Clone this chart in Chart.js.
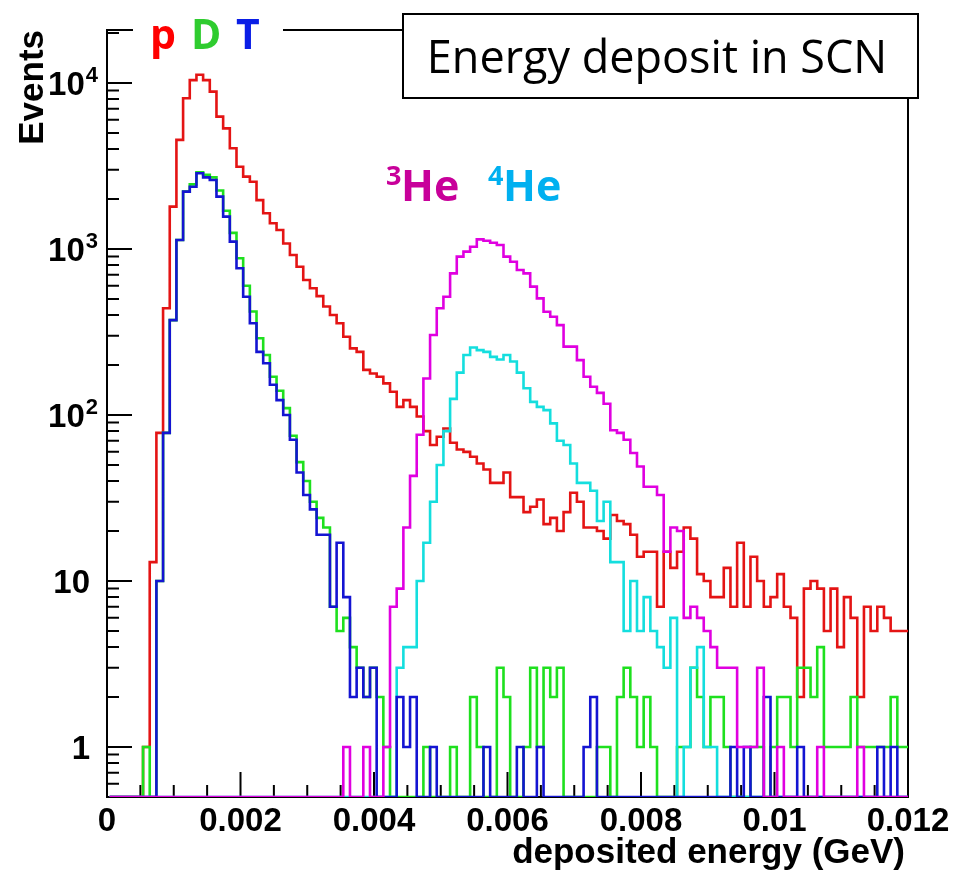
<!DOCTYPE html>
<html>
<head>
<meta charset="utf-8">
<title>Energy deposit in SCN</title>
<script src="https://cdn.jsdelivr.net/npm/chart.js@4.4.0/dist/chart.umd.min.js"></script>
<style>
  html, body { margin: 0; padding: 0; background: #fff; }
</style>
</head>
<body>
<canvas id="edep" width="955" height="888"></canvas>
<script>
// 120 bins of 0.1 MeV, first lower edge at 0.04 MeV
const binLow = 0.00004;
const binWidth = 0.0001;

// counts per bin (0 = empty bin)
const protons = [
  0, 0, 0, 0, 0, 1, 13, 78, 440, 1800,
  4540, 8090, 10400, 11200, 10400, 8870, 6270, 5330, 4040, 3130,
  2730, 2540, 1970, 1640, 1430, 1300, 1080, 920, 782, 650,
  580, 520, 450, 400, 357, 296, 252, 240, 187, 178,
  170, 155, 138, 112, 123, 112, 98, 80, 66, 74,
  83, 68, 62, 60, 56, 51, 47, 39, 39, 45,
  32, 32, 26, 28, 31, 22, 24, 20, 26, 34,
  30, 21, 21, 20, 18, 25, 23, 22, 19, 14,
  15, 15, 7, 15, 12, 15, 21, 18, 11, 10,
  8, 8, 12, 7, 17, 7, 14, 10, 7, 8,
  11, 7, 6, 2, 9, 10, 9, 5, 9, 4,
  8, 6, 2, 7, 5, 7, 6, 5, 5, 5
];
const deuterons = [
  0, 0, 0, 0, 0, 1, 0, 10, 78, 373,
  1133, 2215, 2450, 2900, 2800, 2700, 2250, 1700, 1250, 880,
  600, 420, 290, 230, 170, 140, 110, 75, 52, 40,
  30, 24, 21, 7, 5, 6, 4, 3, 2, 3,
  2, 1, 0, 0, 0, 0, 0, 1, 0, 0,
  0, 1, 0, 0, 2, 1, 0, 0, 3, 2,
  0, 0, 1, 3, 1, 3, 2, 3, 0, 0,
  0, 0, 0, 1, 1, 0, 2, 3, 2, 1,
  2, 1, 0, 0, 0, 1, 1, 3, 2, 1,
  2, 2, 1, 0, 0, 0, 1, 1, 0, 1,
  2, 2, 1, 3, 3, 2, 4, 1, 1, 1,
  1, 2, 1, 1, 1, 1, 1, 2, 1, 1
];
const tritons = [
  0, 0, 0, 0, 0, 0, 0, 10, 78, 373,
  1133, 2215, 2373, 2860, 2700, 2605, 2067, 1566, 1107, 765,
  516, 357, 240, 205, 152, 123, 100, 71, 45, 33,
  27, 19, 19, 7, 17, 8, 2, 3, 2, 3,
  0, 0, 0, 2, 1, 2, 0, 0, 1, 0,
  0, 0, 0, 0, 0, 0, 1, 0, 0, 0,
  0, 1, 0, 0, 1, 0, 0, 0, 0, 0,
  0, 1, 2, 0, 0, 0, 0, 0, 0, 0,
  0, 0, 0, 0, 0, 0, 0, 0, 0, 0,
  0, 0, 0, 1, 0, 1, 0, 0, 2, 0,
  0, 0, 0, 1, 0, 0, 0, 0, 0, 0,
  0, 0, 0, 0, 0, 1, 0, 1, 0, 0
];
const helium3 = [
  0, 0, 0, 0, 0, 0, 0, 0, 0, 0,
  0, 0, 0, 0, 0, 0, 0, 0, 0, 0,
  0, 0, 0, 0, 0, 0, 0, 0, 0, 0,
  0, 0, 0, 0, 0, 1, 0, 0, 1, 0,
  0, 1, 7, 9, 21, 43, 76, 166, 303, 440,
  516, 713, 899, 964, 1032, 1143, 1120, 1090, 1057, 899,
  838, 747, 713, 593, 504, 419, 391, 348, 258, 258,
  214, 170, 148, 136, 117, 81, 78, 71, 59, 49,
  37, 37, 33, 15, 21, 20, 6, 7, 6, 5,
  4, 3, 3, 3, 1, 1, 1, 3, 0, 0,
  1, 0, 0, 0, 0, 0, 1, 0, 0, 0,
  0, 0, 1, 0, 0, 0, 0, 0, 0, 0
];
const helium4 = [
  0, 0, 0, 0, 0, 0, 0, 0, 0, 0,
  0, 0, 0, 0, 0, 0, 0, 0, 0, 0,
  0, 0, 0, 0, 0, 0, 0, 0, 0, 0,
  0, 0, 0, 0, 0, 0, 0, 0, 0, 0,
  0, 0, 0, 3, 4, 4, 10, 17, 30, 50,
  80, 125, 180, 230, 255, 246, 240, 224, 216, 230,
  210, 180, 145, 120, 112, 107, 89, 70, 66, 51,
  39, 39, 35, 23, 30, 13, 13, 5, 10, 5,
  8, 5, 4, 3, 6, 0, 1, 3, 4, 1,
  1, 0, 0, 0, 0, 0, 0, 0, 0, 0,
  0, 0, 0, 0, 0, 0, 0, 0, 0, 0,
  0, 0, 0, 0, 0, 0, 0, 0, 0, 0
];

const xTicks = [0, 0.002, 0.004, 0.006, 0.008, 0.01, 0.012];
const xTickLabels = ['0', '0.002', '0.004', '0.006', '0.008', '0.01', '0.012'];
const yTicks = [1, 10, 100, 1000, 10000];
const yTickLabels = [['1', ''], ['10', ''], ['10', '2'], ['10', '3'], ['10', '4']];

const yMin = 0.5;
const yMax = 20850;

// step outline: one point per lower bin edge, empty bins sit on the frame
function histPoints(counts) {
  const pts = counts.map(function(c, i) {
    return { x: binLow + i * binWidth, y: c > 0 ? c : yMin };
  });
  pts.push({ x: binLow + counts.length * binWidth, y: pts[pts.length - 1].y });
  return pts;
}

const AXIS_FONT = '"Liberation Sans", Arial, sans-serif';
const NOTE_FONT = '"Open Sans", "Noto Sans", sans-serif';

const frameAndLabels = {
  id: 'frameAndLabels',
  beforeDatasetsDraw: function(chart) {
    const ctx = chart.ctx;
    const a = chart.chartArea;
    const xs = chart.scales.x;
    const ys = chart.scales.y;
    ctx.save();
    ctx.strokeStyle = '#000';
    ctx.lineWidth = 2;
    ctx.strokeRect(a.left, a.top, a.right - a.left, a.bottom - a.top);

    // ticks point into the frame
    ctx.beginPath();
    for (let i = 0; i <= 24; i++) {
      const px = xs.getPixelForValue(i * 0.0005);
      ctx.moveTo(px, a.bottom);
      ctx.lineTo(px, a.bottom - (i % 4 === 0 ? 25 : 12));
    }
    for (let d = -1; d <= 4; d++) {
      for (let m = 1; m <= 9; m++) {
        const v = m * Math.pow(10, d);
        if (v < yMin || v > yMax) continue;
        const py = ys.getPixelForValue(v);
        ctx.moveTo(a.left, py);
        ctx.lineTo(a.left + (m === 1 ? 25 : 12), py);
      }
    }
    ctx.stroke();
    ctx.restore();
  },
  afterDraw: function(chart) {
    const ctx = chart.ctx;
    const a = chart.chartArea;
    const xs = chart.scales.x;
    const ys = chart.scales.y;
    ctx.save();
    ctx.fillStyle = '#000';

    // x tick labels
    ctx.font = 'bold 33px ' + AXIS_FONT;
    ctx.textAlign = 'center';
    ctx.textBaseline = 'alphabetic';
    xTicks.forEach(function(v, i) {
      ctx.fillText(xTickLabels[i], xs.getPixelForValue(v), 831);
    });

    // y tick labels, powers of ten with a raised exponent
    ctx.textAlign = 'left';
    yTicks.forEach(function(v, i) {
      const py = ys.getPixelForValue(v);
      const base = yTickLabels[i][0];
      const sup = yTickLabels[i][1];
      ctx.font = 'bold 33px ' + AXIS_FONT;
      const wBase = ctx.measureText(base).width;
      ctx.font = 'bold 22px ' + AXIS_FONT;
      const wSup = sup ? ctx.measureText(sup).width : 0;
      const right = sup ? a.left - 10 : a.left - 17;
      const x0 = right - wBase - wSup;
      ctx.font = 'bold 33px ' + AXIS_FONT;
      ctx.fillText(base, x0, py + 12);
      if (sup) {
        ctx.font = 'bold 22px ' + AXIS_FONT;
        ctx.fillText(sup, x0 + wBase + 1, py - 1);
      }
    });

    // axis titles
    ctx.font = 'bold 35px ' + AXIS_FONT;
    ctx.textAlign = 'right';
    ctx.fillText('deposited energy (GeV)', a.right - 3, 863);
    ctx.save();
    ctx.translate(43, a.top);
    ctx.rotate(-Math.PI / 2);
    ctx.textAlign = 'right';
    ctx.fillText('Events', 0, 0);
    ctx.restore();

    // particle key over the top edge of the frame
    ctx.fillStyle = '#fff';
    ctx.fillRect(133, 12, 150, 36);
    ctx.font = 'bold 41px ' + NOTE_FONT;
    ctx.textAlign = 'left';
    ctx.fillStyle = '#ff0000';
    ctx.fillText('p', 150, 49);
    ctx.fillStyle = '#2fcc2f';
    ctx.fillText('D', 191, 49);
    ctx.fillStyle = '#0a1ee6';
    ctx.fillText('T', 236, 49);

    // title box
    ctx.fillStyle = '#fff';
    ctx.fillRect(403, 14, 515, 84);
    ctx.strokeStyle = '#000';
    ctx.lineWidth = 2;
    ctx.strokeRect(403, 14, 515, 84);
    ctx.fillStyle = '#000';
    ctx.font = '45px ' + NOTE_FONT;
    ctx.textAlign = 'center';
    ctx.fillText('Energy deposit in SCN', 657, 73);

    // helium labels
    ctx.textAlign = 'left';
    ctx.fillStyle = '#c8009a';
    ctx.font = 'bold 27px ' + NOTE_FONT;
    ctx.fillText('3', 386, 185);
    ctx.font = 'bold 43px ' + NOTE_FONT;
    ctx.fillText('He', 401, 201);
    ctx.fillStyle = '#00b0f0';
    ctx.font = 'bold 27px ' + NOTE_FONT;
    ctx.fillText('4', 488, 185);
    ctx.font = 'bold 43px ' + NOTE_FONT;
    ctx.fillText('He', 503, 201);
    ctx.restore();
  }
};

function histDataset(label, counts, color, order) {
  return {
    label: label,
    data: histPoints(counts),
    stepped: true,
    borderColor: color,
    borderWidth: 2.6,
    pointRadius: 0,
    fill: false,
    order: order
  };
}

const ctx = document.getElementById('edep').getContext('2d');
const chart = new Chart(ctx, {
  type: 'line',
  data: {
    datasets: [
      histDataset('3He', helium3, '#e000e0', 0),
      histDataset('T', tritons, '#1414d2', 1),
      histDataset('4He', helium4, '#14dede', 2),
      histDataset('D', deuterons, '#1ee01e', 3),
      histDataset('p', protons, '#e41414', 4)
    ]
  },
  options: {
    responsive: false,
    animation: false,
    devicePixelRatio: 1,
    layout: { padding: { left: 107, right: 47, top: 30, bottom: 91 } },
    scales: {
      x: { type: 'linear', min: 0, max: 0.012, display: false },
      y: { type: 'logarithmic', min: yMin, max: yMax, display: false }
    },
    plugins: {
      legend: { display: false },
      tooltip: { enabled: false }
    }
  },
  plugins: [frameAndLabels]
});
</script>
</body>
</html>
